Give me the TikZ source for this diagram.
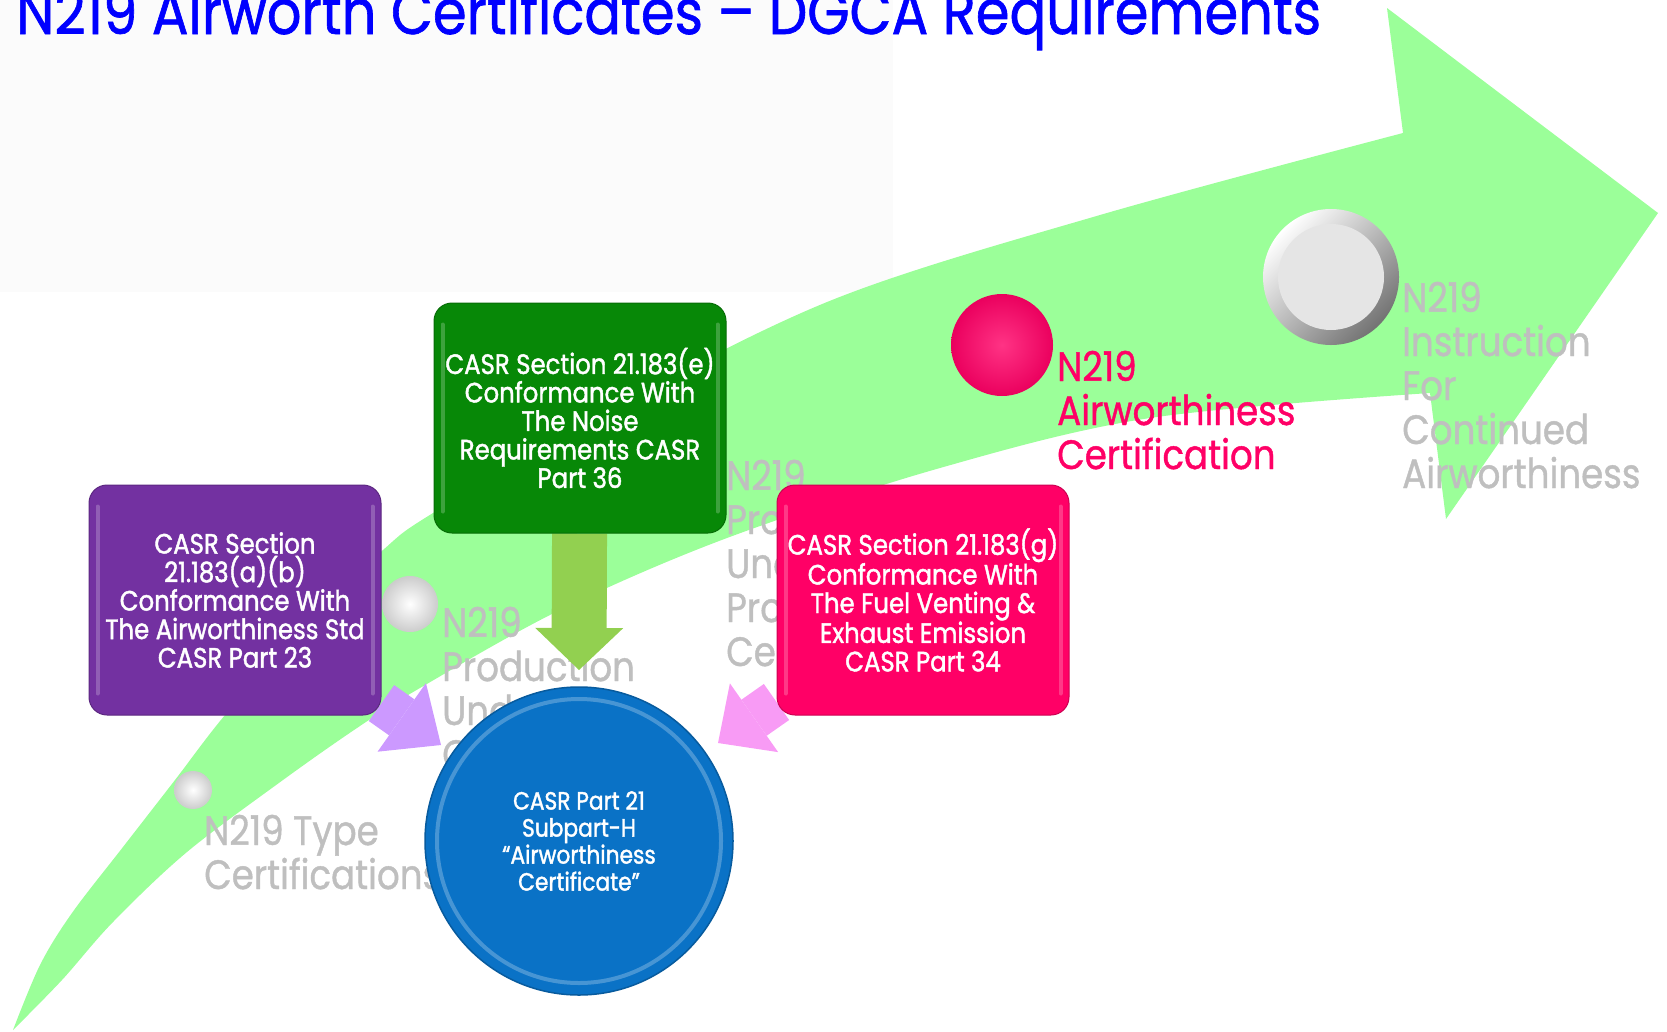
\documentclass[tikz,border=0pt]{standalone}
\usepackage{fontspec}
\newfontfamily\diafont[FakeStretch=0.87, FakeBold=1]{Poppins}
\newfontfamily\boxfont[FakeStretch=0.87, FakeBold=1.5]{Poppins}
\usetikzlibrary{arrows.meta}

\definecolor{bandgreen}{HTML}{9BFF99}
\definecolor{titleblue}{HTML}{0000FF}
\definecolor{boxpurple}{HTML}{7331A1}
\definecolor{boxgreen}{HTML}{078807}
\definecolor{boxpink}{HTML}{FF0066}
\definecolor{circblue}{HTML}{0A72C6}
\definecolor{arrgreen}{HTML}{92D050}
\definecolor{arrpurple}{HTML}{CC99FF}
\definecolor{arrpink}{HTML}{F89BF5}
\definecolor{labelgray}{HTML}{BFBFBF}
\definecolor{bggray}{HTML}{FBFBFB}

\pgfdeclarelayer{back}
\pgfdeclarelayer{mid}
\pgfsetlayers{back,mid,main}

\tikzset{
  reqbox/.style={rectangle, rounded corners=18pt, minimum width=292pt, minimum height=230pt,
    inner sep=0pt, align=center, text=white, draw=#1!80!black, line width=1pt, fill=#1,
    font=\boxfont\fontsize{28}{28.5}\selectfont},
  rim/.style={draw=white, draw opacity=0.22, line width=4pt, line cap=round},
  stage/.style={anchor=base west, align=left, inner sep=0pt, text=labelgray,
    font=\diafont\fontsize{41}{44}\selectfont},
  marker/.style={shading=radial, inner color=white, outer color=gray!40},
  fatarrow/.style n args={3}{line width=#1, -{Triangle[width=#2, length=#3, line width=0pt]}}
}

\begin{document}
\begin{tikzpicture}[x=1pt,y=-1pt]
\useasboundingbox (0,0) rectangle (1667,1031);

\begin{pgfonlayer}{back}
  \fill[bggray] (0,0) rectangle (893,292);
  % the big upward arrow
  \fill[bandgreen] plot[smooth, tension=0.55] coordinates {(13,1030) (40,965) (72,913) (123,847) (175,780)
      (225,715) (300,630) (383,550) (433,513) (600,415) (832,300) (1100,215) (1403,133)}
    -- (1387,8) -- (1658,213) -- (1446,519) -- (1430,393)
    -- plot[smooth, tension=0.55] coordinates {(1430,393) (1150,418) (940,468) (727,538) (560,610)
      (420,688) (357,728) (283,780) (187,852) (113,922) (62,980) (13,1030)} -- cycle;

  % stage markers
  \shade[marker] (193,790) circle (19pt);
  \shade[marker] (410,604) circle (28pt);
  \shade[shading=radial, inner color=boxpink!80!white, outer color=boxpink!92!black] (1002,345) circle (51pt);
  \shade[top color=white, bottom color=black!55, shading angle=45] (1331,277) circle (68pt);
  \fill[gray!20] (1331,277) circle (53pt);

  % stage labels (placed at the baseline of their last line)
  \node[stage] (type) at (204,889) {N219 Type\\Certifications};
  \node[stage] (prod) at (442,769) {N219\\Production\\Under\\Certificate};
  \node[stage] (prodcert) at (726,666) {N219\\Production\\Under\\Production\\Certificate};
  \node[stage, text=boxpink] (airw) at (1057,469) {N219\\Airworthiness\\Certification};
  \node[stage] (ica) at (1402,488) {N219\\Instruction\\For\\Continued\\Airworthiness};
\end{pgfonlayer}

\node[anchor=base west, inner sep=0pt, text=titleblue, font=\diafont\fontsize{62.5}{63}\selectfont]
  (title) at (16,34) {N219 Airworth Certificates – DGCA Requirements};

% requirement boxes
\node[reqbox=boxpurple] (std) at (235,600)
  {CASR Section\\21.183(a)(b)\\Conformance With\\The Airworthiness Std\\CASR Part 23};
\node[reqbox=boxgreen] (noise) at (580,418)
  {CASR Section 21.183(e)\\Conformance With\\The Noise\\Requirements CASR\\Part 36};
\node[reqbox=boxpink] (fuel) at (923,600)
  {CASR Section 21.183(g)\\Conformance With\\The Fuel Venting \&\\Exhaust Emission\\CASR Part 34};
\foreach \b in {std,noise,fuel} {
  \draw[rim] ([shift={(9,22)}]\b.north west) -- ([shift={(9,-22)}]\b.south west);
  \draw[rim] ([shift={(-9,22)}]\b.north east) -- ([shift={(-9,-22)}]\b.south east);
}

\node[circle, fill=circblue, draw=circblue!80!black, line width=1.5pt, minimum size=308pt,
  inner sep=0pt, align=center, text=white, font=\boxfont\fontsize{25}{27}\selectfont] (cert) at (579,841)
  {CASR Part 21\\Subpart-H\\“Airworthiness\\Certificate”};
\draw[white, opacity=0.25, line width=4pt] (cert.center) circle (142pt);

% arrows into the certificate
\coordinate (noisetip) at (579,670);
\coordinate (stdtip) at (441,745);
\coordinate (fueltip) at (718,743);
\begin{pgfonlayer}{mid}
  \draw[arrgreen, fatarrow={55pt}{88pt}{42pt}] (noise) -- (noisetip);
  \draw[arrpurple, fatarrow={44pt}{84pt}{48pt}] (std) -- (stdtip);
  \draw[arrpink, fatarrow={44pt}{84pt}{44pt}] (fuel) -- (fueltip);
\end{pgfonlayer}
\end{tikzpicture}
\end{document}
